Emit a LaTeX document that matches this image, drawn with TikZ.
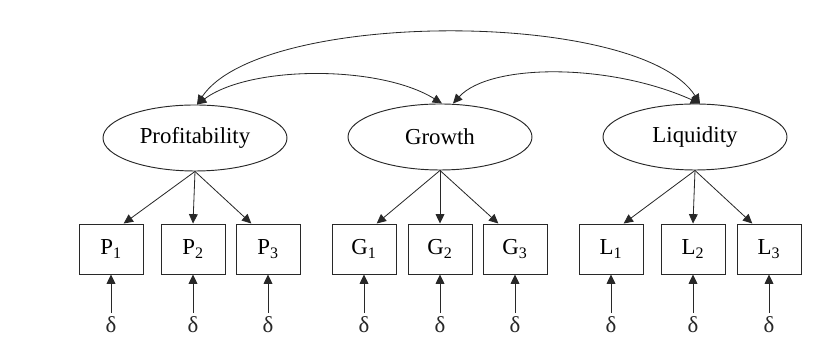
\documentclass[tikz,border=0pt]{standalone}
\usepackage{fontspec}
\setmainfont{Liberation Serif}
\usetikzlibrary{arrows.meta,positioning,shapes.geometric}
\definecolor{InkGray}{RGB}{40,40,40}
\tikzset{
  latent/.style={ellipse,draw=InkGray,line width=0.8pt,minimum width=5.52cm,
    minimum height=1.98cm,inner sep=0pt,font=\fontsize{19.5}{22}\selectfont},
  indicator/.style={draw=InkGray,line width=0.8pt,minimum width=1.92cm,
    minimum height=1.5cm,inner sep=0pt,font=\fontsize{19.5}{22}\selectfont},
  errterm/.style={inner sep=1pt,font=\fontsize{19.5}{22}\selectfont,text=InkGray},
  arrow/.style={-{Triangle[length=8pt,width=7.5pt]},line width=0.7pt,InkGray},
  twoway/.style={arrow,{Triangle[length=8pt,width=7.5pt]}-{Triangle[length=8pt,width=7.5pt]}}
}

\begin{document}
\begin{tikzpicture}[x=0.03cm,y=0.03cm]
  \useasboundingbox (0,0) rectangle (826,347);
  % latent factors
  \node[latent] (pe) at (195,209) {Profitability};
  \node[latent] (ge) at (440,210) {Growth};
  \node[latent] (le) at (695,210) {Liquidity};
  % correlations between factors
  \draw[twoway]
    ([xshift=0.06cm]pe.north) .. controls (260,338) and (640,338) .. ([xshift=0.15cm]le.north);
  \draw[twoway]
    ([xshift=0.06cm]pe.north) .. controls (250,282) and (380,282) .. ([xshift=0.06cm]ge.north);
  \draw[twoway]
    ([xshift=0.39cm]ge.north) .. controls (490,284) and (610,284) .. ([xshift=0.15cm]le.north);
  % indicators and errors
  \foreach \grp/\L/\xa/\xb/\xc in {p/P/111/193/268,g/G/364/440/515,l/L/611/693/769}{
    \node[indicator] (\grp1) at (\xa,98) {\L\textsubscript{1}};
    \node[indicator] (\grp2) at (\xb,98) {\L\textsubscript{2}};
    \node[indicator] (\grp3) at (\xc,98) {\L\textsubscript{3}};
    \draw[arrow] (\grp e.south) -- ([xshift=0.38cm]\grp1.north);
    \draw[arrow] (\grp e.south) -- (\grp2.north);
    \draw[arrow] (\grp e.south) -- ([xshift=-0.5cm]\grp3.north);
    \foreach \i in {1,2,3}{
      \node[errterm,below=1.5cm of \grp\i.south,anchor=center] (\grp d\i) {δ};
      \draw[arrow,shorten <=2pt] (\grp d\i.north) -- (\grp\i.south);
    }
  }
\end{tikzpicture}
\end{document}
